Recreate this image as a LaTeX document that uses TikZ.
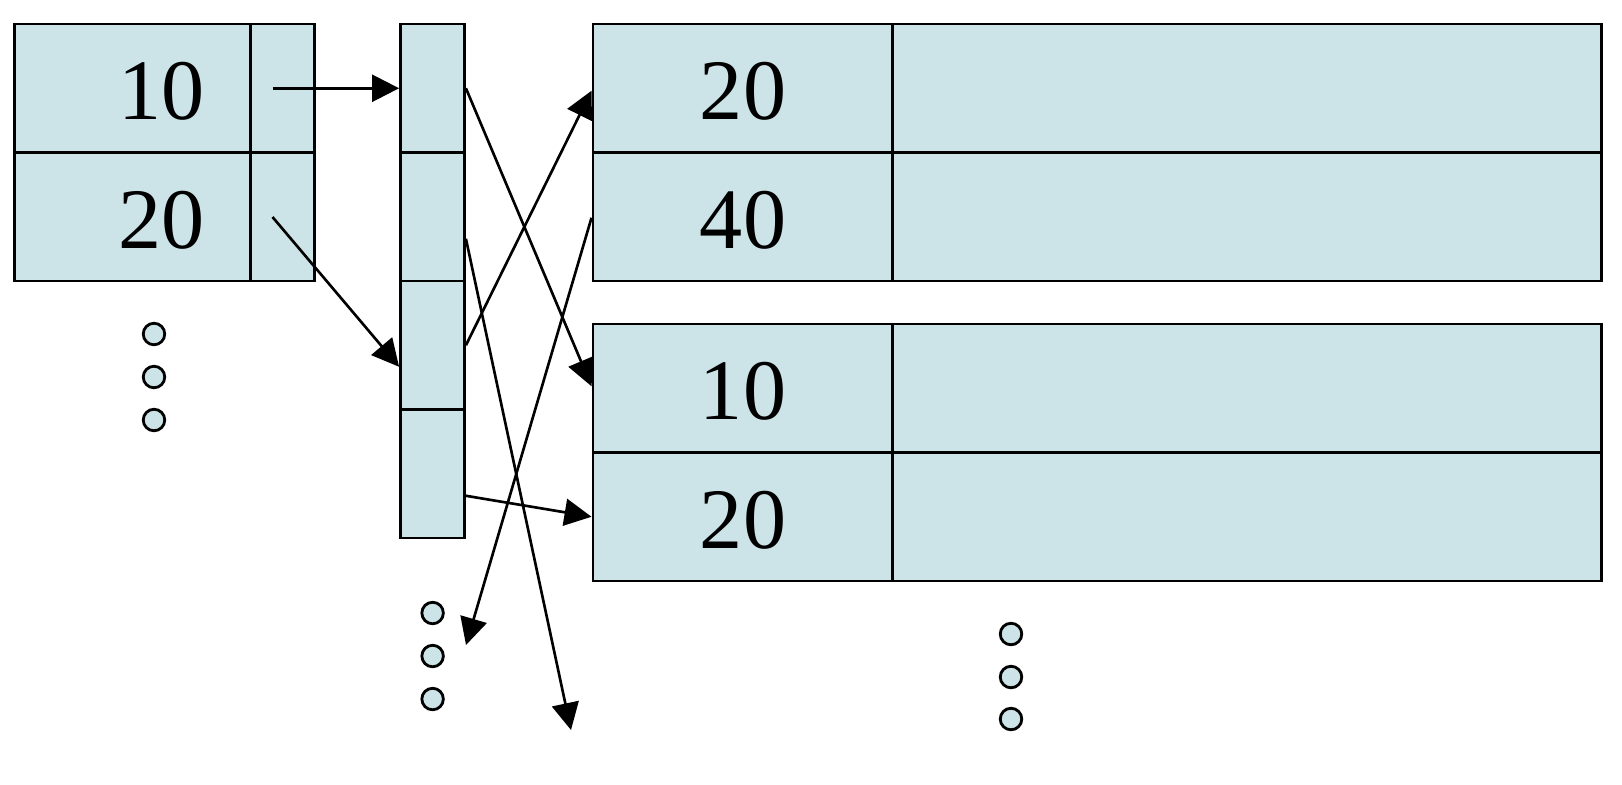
\documentclass[tikz,border=0pt]{standalone}
\usepackage{fontspec}
\setmainfont{Liberation Serif}
\usetikzlibrary{arrows.meta}
\definecolor{cellfill}{RGB}{204,228,232}
\begin{document}
\begin{tikzpicture}[x=0.01cm,y=-0.01cm,
  cell/.style={draw=black, fill=cellfill, line width=0.8pt, inner sep=0pt, minimum height=1.285cm},
  key/.style={cell, minimum width=2.36cm},
  ptr/.style={cell, minimum width=0.64cm},
  rkey/.style={cell, minimum width=3.0cm},
  rval/.style={cell, minimum width=7.08cm},
  num/.style={inner sep=0pt, font=\fontsize{24.5}{29}\selectfont},
  arr/.style={line width=0.75pt, -{Triangle[length=0.27cm,width=0.27cm]}},
  dot/.style={circle, draw=black, fill=cellfill, line width=0.8pt, minimum size=0.215cm, inner sep=0pt}]
\useasboundingbox (0,0) rectangle (1622,784);
% left index block
\node[key] (k1) at (132.5,88.25) {};
\node[ptr] (p1) at (282.5,88.25) {};
\node[key] (k2) at (132.5,216.75) {};
\node[ptr] (p2) at (282.5,216.75) {};
\node[num, anchor=east] (t1) at (205,91) {10};
\node[num, anchor=east] (t2) at (205,220) {20};
% middle bucket column
\node[ptr] (m1) at (432.5,88.25) {};
\node[ptr] (m2) at (432.5,216.75) {};
\node[ptr] (m3) at (432.5,345.25) {};
\node[ptr] (m4) at (432.5,473.75) {};
% right records, block 1
\node[rkey] (a1) at (743,88.25) {};
\node[rval] (av1) at (1247,88.25) {};
\node[rkey] (a2) at (743,216.75) {};
\node[rval] (av2) at (1247,216.75) {};
\node[num] (ta1) at (743,91) {20};
\node[num] (ta2) at (743,220) {40};
% right records, block 2
\node[rkey] (b1) at (743,388.25) {};
\node[rval] (bv1) at (1247,388.25) {};
\node[rkey] (b2) at (743,516.75) {};
\node[rval] (bv2) at (1247,516.75) {};
\node[num] (tb1) at (743,391) {10};
\node[num] (tb2) at (743,520) {20};
% dots
\node[dot] (d1) at (154,334) {};
\node[dot] (d2) at (154,377) {};
\node[dot] (d3) at (154,420) {};
\node[dot] (e1) at (432.6,613) {};
\node[dot] (e2) at (432.6,656) {};
\node[dot] (e3) at (432.6,699) {};
\node[dot] (f1) at (1011,634) {};
\node[dot] (f2) at (1011,677) {};
\node[dot] (f3) at (1011,719) {};
% free ends
\coordinate (s1) at (272.5,88.25);
\coordinate (s2) at (272.5,217);
\coordinate (o1) at (571,730);
\coordinate (o2) at (466,645);
% connectors
\draw[arr] (s1) -- (m1.west);
\draw[arr] (s2) -- ([yshift=-0.215cm]m3.west);
\draw[arr] (m1.east) -- ([yshift=0.02cm]b1.west);
\draw[arr] ([yshift=-0.22cm]m2.east) -- (o1);
\draw[arr] (m3.east) -- ([yshift=-0.025cm]a1.west);
\draw[arr] ([yshift=-0.01cm]a2.west) -- (o2);
\draw[arr] ([yshift=-0.22cm]m4.east) -- (b2.west);
\end{tikzpicture}
\end{document}
